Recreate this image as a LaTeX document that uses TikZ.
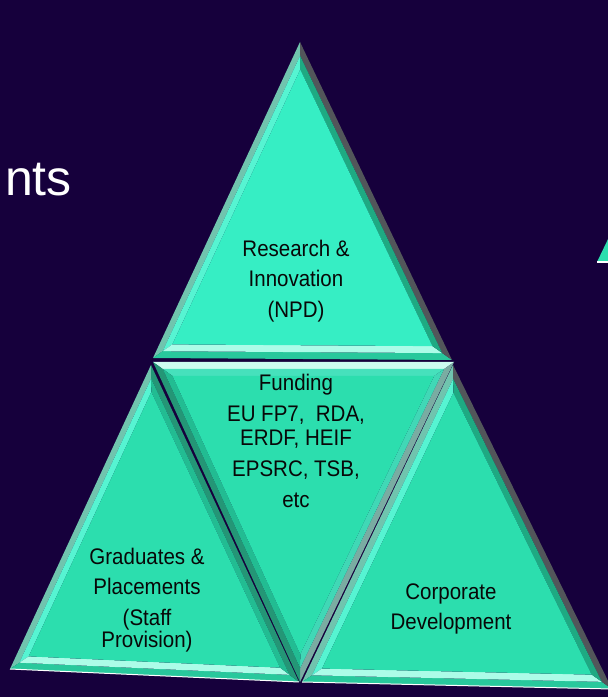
\documentclass[tikz,border=0pt]{standalone}
\usepackage{fontspec}
\setmainfont{Liberation Sans}
\usetikzlibrary{calc}
\definecolor{bg}{RGB}{22,0,60}
\definecolor{facetop}{RGB}{54,238,196}
\definecolor{face}{RGB}{44,222,174}
\definecolor{lightO}{RGB}{112,196,174}
\definecolor{lightI}{RGB}{86,244,210}
\definecolor{darkO}{RGB}{82,86,90}
\definecolor{darkI}{RGB}{30,170,130}
\definecolor{mdarkO}{RGB}{36,150,118}
\definecolor{mdarkI}{RGB}{34,188,146}
\definecolor{botO}{RGB}{40,200,156}
\definecolor{botI}{RGB}{172,252,232}
\definecolor{topO}{RGB}{205,252,240}
\definecolor{topI}{RGB}{70,225,188}
\definecolor{greyO}{RGB}{122,172,162}
\definecolor{greyI}{RGB}{64,216,182}
\definecolor{inktext}{RGB}{8,8,8}
\newcommand\bevtri[7]{%
  \coordinate (g) at (barycentric cs:#1=1,#2=1,#3=1);
  \coordinate (m1) at ($(g)!0.935!(#1)$);
  \coordinate (m2) at ($(g)!0.935!(#2)$);
  \coordinate (m3) at ($(g)!0.935!(#3)$);
  \coordinate (n1) at ($(g)!0.87!(#1)$);
  \coordinate (n2) at ($(g)!0.87!(#2)$);
  \coordinate (n3) at ($(g)!0.87!(#3)$);
  \fill[fill=#4O] (#1)--(#2)--(m2)--(m1)--cycle;
  \fill[fill=#5O] (#2)--(#3)--(m3)--(m2)--cycle;
  \fill[fill=#6O] (#3)--(#1)--(m1)--(m3)--cycle;
  \fill[fill=#4I] (m1)--(m2)--(n2)--(n1)--cycle;
  \fill[fill=#5I] (m2)--(m3)--(n3)--(n2)--cycle;
  \fill[fill=#6I] (m3)--(m1)--(n1)--(n3)--cycle;
  \fill[fill=#7] (n1)--(n2)--(n3)--cycle;
}
\tikzset{
  lbl/.style={text=inktext, align=center, font=\fontsize{20.5}{28}\selectfont, inner sep=0pt, yscale=1.1},
}
\begin{document}
\begin{tikzpicture}[x=1pt,y=1pt]
\useasboundingbox (0,0) rectangle (608,697);
\fill[bg] (0,0) rectangle (608,697);
\clip (0,0) rectangle (608,697);
% vertices
\coordinate (A) at (300,655);
\coordinate (B) at (153,339);
\coordinate (C) at (452,337);
\coordinate (D) at (153,335);
\coordinate (E) at (454,335);
\coordinate (F) at (300,15);
\coordinate (G) at (151,332);
\coordinate (H) at (10,28);
\coordinate (I) at (299,15);
\coordinate (J) at (453,332);
\coordinate (K) at (302,15);
\coordinate (Lr) at (612,8);
\coordinate (s1) at (597,435);
\coordinate (s2) at (610,462);
\coordinate (s3) at (610,435);
% triangles
\bevtri{A}{B}{C}{light}{bot}{dark}{facetop}
\bevtri{D}{E}{F}{top}{grey}{mdark}{face}
\bevtri{G}{H}{I}{light}{bot}{mdark}{face}
\bevtri{J}{K}{Lr}{light}{bot}{dark}{face}
\draw[white, line width=1pt] (H) -- (I);
\draw[white, line width=1pt] (K) -- (Lr);
% small partial triangle at the right edge
\fill[face] (s1) -- (s2) -- (s3) -- cycle;
\draw[white, line width=1.2pt] (s1) -- (s3);
% texts
\node[lbl] (research) at (296,416) {Research \&\\Innovation\\(NPD)};
\node[lbl] (funding) at (296,256) {Funding\\EU FP7,\ \ RDA,\\[-6pt]ERDF, HEIF\\EPSRC, TSB,\\etc};
\node[lbl] (graduates) at (147,97) {Graduates \&\\Placements\\(Staff\\[-8pt]Provision)};
\node[lbl] (corporate) at (451,88) {Corporate\\Development};
\node[text=white, font=\fontsize{50}{60}\selectfont, anchor=base east, inner sep=0pt] (nts) at (72,501) {nts};
\end{tikzpicture}
\end{document}
